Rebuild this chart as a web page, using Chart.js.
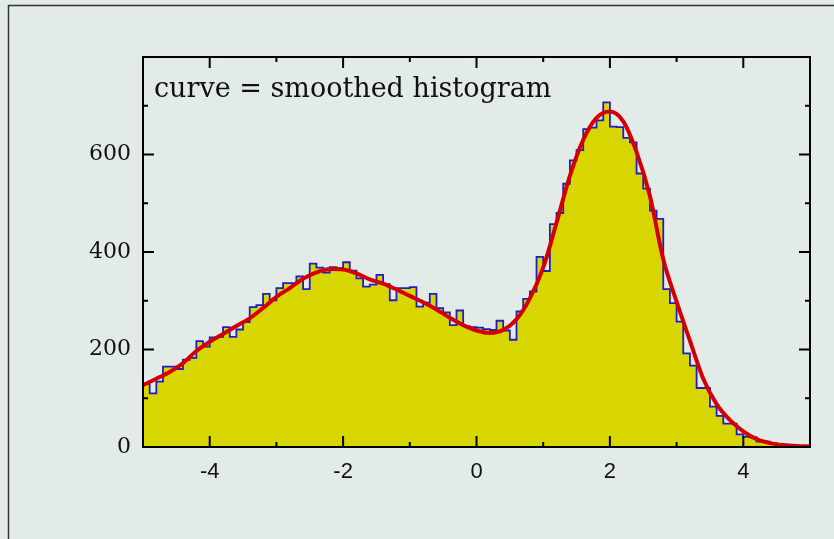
<!DOCTYPE html>
<html>
<head>
<meta charset="utf-8">
<script src="https://cdn.jsdelivr.net/npm/chart.js@4.4.1/dist/chart.umd.min.js"></script>
<style>
  html, body { margin: 0; padding: 0; background: #e3ebe8; }
</style>
</head>
<body>
<canvas id="histChart" width="834" height="539"></canvas>
<script>
// histogram: 100 bins of width 0.1 from -5 to 5
const binStart = -5;
const binWidth = 0.1;
const binCounts = [
  129, 110, 134, 165, 165, 160, 179, 183, 217, 206,
  225, 226, 246, 226, 241, 256, 287, 291, 314, 301,
  326, 336, 336, 350, 324, 376, 368, 358, 369, 367,
  379, 362, 346, 329, 333, 353, 334, 301, 326, 326,
  328, 288, 296, 314, 285, 276, 250, 280, 248, 246,
  245, 242, 240, 259, 239, 220, 278, 304, 319, 390,
  361, 457, 480, 540, 588, 609, 652, 655, 670, 707,
  657, 656, 634, 625, 561, 530, 485, 468, 324, 295,
  257, 192, 167, 121, 121, 83, 64, 48, 48, 26,
  21, 20, 11, 11, 8, 6, 4, 3, 2, 1
];

// smoothed curve
const curveX = [-5.0, -4.8, -4.6, -4.4, -4.2, -4.0, -3.8, -3.6, -3.4, -3.2,
  -3.0, -2.8, -2.6, -2.4, -2.2, -2.0, -1.8, -1.6, -1.4, -1.2,
  -1.0, -0.8, -0.6, -0.4, -0.2, 0.0, 0.2, 0.4, 0.6, 0.8,
  1.0, 1.2, 1.4, 1.6, 1.8, 2.0, 2.2, 2.4, 2.6, 2.8,
  3.0, 3.2, 3.4, 3.6, 3.8, 4.0, 4.2, 4.4, 4.6, 4.8, 5.0];
const curveY = [127, 140, 154, 172, 197, 216, 232, 248, 264, 285,
  308, 326, 345, 358, 365, 364, 356, 344, 335, 323,
  310, 297, 282, 265, 250, 239, 234, 240, 262, 305,
  368, 460, 556, 630, 675, 688, 668, 605, 515, 385,
  298, 218, 140, 88, 55, 32, 16, 8, 4, 2, 1];

const xTickValues = [-4, -2, 0, 2, 4];
const xMinorTicks = [-3, -1, 1, 3];
const yTickValues = [0, 200, 400, 600];
const yMinorTicks = [100, 300, 500, 700];
const noteText = 'curve = smoothed histogram';

const bg = '#e3ebe8';

const histPoints = binCounts.map((v, i) => ({ x: binStart + i * binWidth, y: v }));
histPoints.push({ x: binStart + binCounts.length * binWidth, y: binCounts[binCounts.length - 1] });

const curvePoints = curveX.map((x, i) => ({ x: x, y: curveY[i] }));

const framePlugin = {
  id: 'frame',
  beforeDraw(chart) {
    const c = chart.ctx;
    c.save();
    c.fillStyle = bg;
    c.fillRect(0, 0, chart.width, chart.height);
    c.strokeStyle = '#333';
    c.lineWidth = 1.5;
    c.strokeRect(8.5, 5.5, chart.width + 20, chart.height + 20);
    c.restore();
  },
  afterDatasetsDraw(chart) {
    const { ctx, chartArea: a, scales: { x, y } } = chart;
    ctx.save();
    ctx.strokeStyle = '#000';
    ctx.lineWidth = 2;
    ctx.beginPath();
    const tick = (px, py, dx, dy) => { ctx.moveTo(px, py); ctx.lineTo(px + dx, py + dy); };
    xTickValues.forEach(v => {
      const p = x.getPixelForValue(v);
      tick(p, a.bottom, 0, -11); tick(p, a.top, 0, 11);
    });
    xMinorTicks.forEach(v => {
      const p = x.getPixelForValue(v);
      tick(p, a.bottom, 0, -5); tick(p, a.top, 0, 5);
    });
    yTickValues.forEach(v => {
      const p = y.getPixelForValue(v);
      tick(a.left, p, 11, 0); tick(a.right, p, -11, 0);
    });
    yMinorTicks.forEach(v => {
      const p = y.getPixelForValue(v);
      tick(a.left, p, 5, 0); tick(a.right, p, -5, 0);
    });
    ctx.stroke();
    ctx.strokeRect(a.left, a.top, a.right - a.left, a.bottom - a.top);
    ctx.font = '27px "DejaVu Serif"';
    ctx.fillStyle = '#111';
    ctx.textBaseline = 'alphabetic';
    ctx.fillText(noteText, a.left + 11, a.top + 40);
    ctx.restore();
  }
};

new Chart(document.getElementById('histChart'), {
  type: 'line',
  data: {
    datasets: [
      {
        label: 'smoothed',
        data: curvePoints,
        borderColor: '#d40000',
        borderWidth: 4,
        pointRadius: 0,
        fill: false,
        cubicInterpolationMode: 'monotone',
        order: 0
      },
      {
        label: 'histogram',
        data: histPoints,
        stepped: 'before',
        borderColor: '#1e1ec4',
        borderWidth: 1.8,
        backgroundColor: '#d8d600',
        pointRadius: 0,
        fill: 'origin',
        order: 1
      }
    ]
  },
  options: {
    responsive: false,
    animation: false,
    layout: { padding: { left: 0, right: 24, top: 57, bottom: 52 } },
    plugins: { legend: { display: false }, tooltip: { enabled: false } },
    scales: {
      x: {
        type: 'linear',
        min: -5,
        max: 5,
        grid: { display: false },
        border: { display: false },
        afterBuildTicks: s => { s.ticks = xTickValues.map(v => ({ value: v })); },
        afterFit: s => { s.height = 40; },
        ticks: {
          padding: 4,
          color: '#111',
          font: { family: 'Liberation Sans', size: 22 },
          callback: v => String(v)
        }
      },
      y: {
        min: 0,
        max: 800,
        grid: { display: false },
        border: { display: false },
        afterBuildTicks: s => { s.ticks = yTickValues.map(v => ({ value: v })); },
        afterFit: s => { s.width = 143; },
        ticks: {
          padding: 4,
          color: '#111',
          font: { family: 'DejaVu Serif', size: 22 },
          callback: v => String(v)
        }
      }
    }
  },
  plugins: [framePlugin]
});
</script>
</body>
</html>
